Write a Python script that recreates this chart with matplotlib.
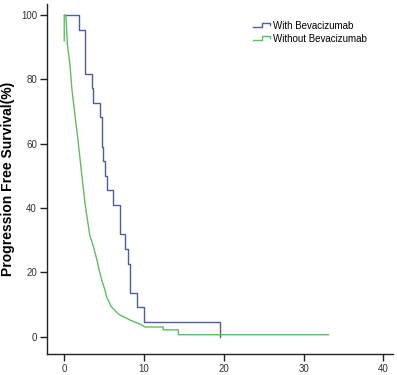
import matplotlib
matplotlib.use('Agg')
import matplotlib.pyplot as plt
from matplotlib.legend_handler import HandlerBase
from matplotlib.lines import Line2D

# Kaplan-Meier step data (months, % progression free)
with_t = [0, 1.9, 2.6, 3.5, 3.6, 4.5, 4.7, 4.85, 5.1, 5.4, 6.1, 7.0, 7.6, 7.95, 8.2, 9.1, 10.0, 19.5]
with_s = [100, 95.5, 81.8, 77.3, 72.7, 68.2, 59.1, 54.5, 50.0, 45.5, 40.9, 31.8, 27.3, 22.7, 13.6, 9.1, 4.5, 0]

# dense curve, read as a path
without_t = [0, 0, 0.2, 0.4, 0.72, 0.97, 1.34, 1.72, 2.1, 2.6, 3.2, 3.6, 4.1, 4.4, 4.7, 5.1, 5.3, 5.9,
             6.6, 6.8, 7.4, 8.0, 8.2, 9.5, 10.1, 12.4, 12.4, 14.3, 14.3, 33.1]
without_s = [92, 100, 100, 90.7, 84.5, 76.7, 68.9, 61.2, 52.5, 41.5, 31.5, 28.5, 23.8, 20.5, 17.6, 14.5, 12.4, 9.3,
             7.5, 7.0, 6.2, 5.5, 5.2, 3.9, 3.0, 3.0, 2.1, 2.1, 0.6, 0.6]

labels = ['With Bevacizumab', 'Without Bevacizumab']
blue = '#4f5d9b'
green = '#5cbf63'

plt.rcParams['font.family'] = ['Liberation Sans', 'DejaVu Sans']


class StepHandler(HandlerBase):
    def create_artists(self, legend, orig_handle, xdescent, ydescent, width, height, fontsize, trans):
        y0 = height * 0.25 - ydescent
        y1 = height * 0.85 - ydescent
        xs = [-xdescent, -xdescent + width * 0.45, -xdescent + width * 0.45, -xdescent + width * 0.9,
              -xdescent + width * 0.9]
        ys = [y0, y0, y1, y1, y0 + (y1 - y0) * 0.5]
        ln = Line2D(xs, ys, color=orig_handle.get_color(), lw=1.0, transform=trans)
        return [ln]


fig = plt.figure(figsize=(3.97, 3.75), dpi=100)
ax = fig.add_axes([0.1176, 0.056, 0.8724, 0.933])

l1, = ax.plot(with_t, with_s, drawstyle='steps-post', color=blue, lw=1.0, label=labels[0])
l2, = ax.plot(without_t, without_s, color=green, lw=1.0, label=labels[1])

ax.set_xlim(-2.2, 41.2)
ax.set_ylim(-5.4, 103.4)
ax.set_xticks([0, 10, 20, 30, 40])
ax.set_yticks([0, 20, 40, 60, 80, 100])
ax.spines['top'].set_visible(False)
ax.spines['right'].set_visible(False)
for s in ['left', 'bottom']:
    ax.spines[s].set_color('#222222')
    ax.spines[s].set_linewidth(1.0)
ax.tick_params(direction='out', length=5, width=1.0, color='#222222', labelsize=7, labelcolor='#333333', pad=2)
ax.set_ylabel('Progression Free Survival(%)', fontsize=10, fontweight='bold', labelpad=4)

ax.legend([l1, l2], labels, handler_map={Line2D: StepHandler()}, loc='upper left',
          bbox_to_anchor=(0.637, 0.945), bbox_transform=fig.transFigure, frameon=False,
          fontsize=7, handlelength=2.0, handletextpad=0.1, labelspacing=0.3, borderpad=0,
          borderaxespad=0)

fig.savefig('out.png', dpi=100)
